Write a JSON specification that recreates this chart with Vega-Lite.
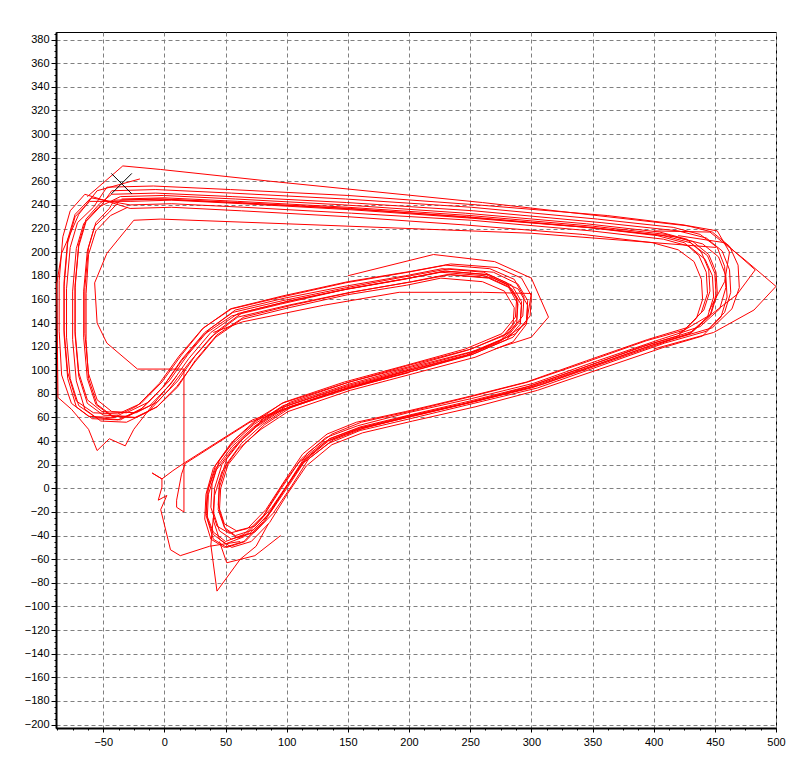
{
  "$schema": "https://vega.github.io/schema/vega-lite/v6.json",
  "width": 720,
  "height": 696,
  "autosize": {"type": "none"},
  "padding": {"left": 56, "top": 32, "right": 24, "bottom": 52},
  "background": "white",
  "config": {"view": {"stroke": "#000000", "strokeWidth": 1}},
  "datasets": {
    "track": [
      {"s":"m","x":-35,"y":245},{"s":"m","x":0,"y":246},{"s":"m","x":60,"y":243},{"s":"m","x":150,"y":238},{"s":"m","x":250,"y":231},{"s":"m","x":350,"y":222},{"s":"m","x":410,"y":215},{"s":"m","x":432,"y":209},{"s":"m","x":445,"y":198},{"s":"m","x":451,"y":183},{"s":"m","x":452,"y":165},{"s":"m","x":447,"y":148},{"s":"m","x":432,"y":133},{"s":"m","x":400,"y":123},{"s":"m","x":350,"y":105},{"s":"m","x":300,"y":87},{"s":"m","x":250,"y":74},{"s":"m","x":200,"y":62},{"s":"m","x":160,"y":52},{"s":"m","x":135,"y":42},{"s":"m","x":115,"y":25},{"s":"m","x":100,"y":2},{"s":"m","x":85,"y":-22},{"s":"m","x":70,"y":-38},{"s":"m","x":55,"y":-43},{"s":"m","x":45,"y":-36},{"s":"m","x":40,"y":-20},{"s":"m","x":41,"y":0},{"s":"m","x":47,"y":20},{"s":"m","x":60,"y":38},{"s":"m","x":78,"y":55},{"s":"m","x":100,"y":70},{"s":"m","x":150,"y":87},{"s":"m","x":200,"y":101},{"s":"m","x":250,"y":115},{"s":"m","x":280,"y":128},{"s":"m","x":291,"y":142},{"s":"m","x":292,"y":158},{"s":"m","x":284,"y":172},{"s":"m","x":265,"y":181},{"s":"m","x":230,"y":184},{"s":"m","x":200,"y":178},{"s":"m","x":150,"y":169},{"s":"m","x":100,"y":158},{"s":"m","x":60,"y":148},{"s":"m","x":38,"y":132},{"s":"m","x":20,"y":110},{"s":"m","x":5,"y":88},{"s":"m","x":-12,"y":70},{"s":"m","x":-30,"y":61},{"s":"m","x":-50,"y":62},{"s":"m","x":-63,"y":72},{"s":"m","x":-70,"y":95},{"s":"m","x":-73,"y":130},{"s":"m","x":-73,"y":170},{"s":"m","x":-70,"y":205},{"s":"m","x":-64,"y":226},{"s":"m","x":-52,"y":239},
      {"s":"m","x":-43,"y":252},{"s":"m","x":-7,"y":253},{"s":"m","x":55,"y":250},{"s":"m","x":148,"y":245},{"s":"m","x":251,"y":238},{"s":"m","x":354,"y":228},{"s":"m","x":416,"y":221},{"s":"m","x":438,"y":215},{"s":"m","x":452,"y":204},{"s":"m","x":458,"y":188},{"s":"m","x":459,"y":170},{"s":"m","x":454,"y":152},{"s":"m","x":438,"y":137},{"s":"m","x":405,"y":126},{"s":"m","x":354,"y":108},{"s":"m","x":302,"y":89},{"s":"m","x":251,"y":76},{"s":"m","x":199,"y":64},{"s":"m","x":158,"y":53},{"s":"m","x":132,"y":43},{"s":"m","x":112,"y":25},{"s":"m","x":96,"y":2},{"s":"m","x":81,"y":-23},{"s":"m","x":65,"y":-39},{"s":"m","x":50,"y":-45},{"s":"m","x":40,"y":-37},{"s":"m","x":34,"y":-21},{"s":"m","x":36,"y":0},{"s":"m","x":42,"y":20},{"s":"m","x":55,"y":39},{"s":"m","x":74,"y":56},{"s":"m","x":96,"y":72},{"s":"m","x":148,"y":89},{"s":"m","x":199,"y":104},{"s":"m","x":251,"y":118},{"s":"m","x":282,"y":132},{"s":"m","x":293,"y":146},{"s":"m","x":294,"y":162},{"s":"m","x":286,"y":177},{"s":"m","x":266,"y":186},{"s":"m","x":230,"y":189},{"s":"m","x":199,"y":183},{"s":"m","x":148,"y":174},{"s":"m","x":96,"y":162},{"s":"m","x":55,"y":152},{"s":"m","x":32,"y":136},{"s":"m","x":14,"y":113},{"s":"m","x":-2,"y":90},{"s":"m","x":-19,"y":72},{"s":"m","x":-38,"y":63},{"s":"m","x":-58,"y":64},{"s":"m","x":-72,"y":74},{"s":"m","x":-79,"y":98},{"s":"m","x":-82,"y":134},{"s":"m","x":-82,"y":175},{"s":"m","x":-79,"y":211},{"s":"m","x":-73,"y":232},{"s":"m","x":-60,"y":246},
      {"s":"m","x":-28,"y":240},{"s":"m","x":6,"y":241},{"s":"m","x":65,"y":238},{"s":"m","x":153,"y":233},{"s":"m","x":251,"y":227},{"s":"m","x":349,"y":218},{"s":"m","x":408,"y":211},{"s":"m","x":429,"y":205},{"s":"m","x":442,"y":194},{"s":"m","x":448,"y":180},{"s":"m","x":449,"y":162},{"s":"m","x":444,"y":145},{"s":"m","x":429,"y":131},{"s":"m","x":398,"y":121},{"s":"m","x":349,"y":103},{"s":"m","x":300,"y":85},{"s":"m","x":251,"y":73},{"s":"m","x":202,"y":61},{"s":"m","x":163,"y":51},{"s":"m","x":138,"y":41},{"s":"m","x":118,"y":25},{"s":"m","x":104,"y":2},{"s":"m","x":89,"y":-21},{"s":"m","x":74,"y":-37},{"s":"m","x":60,"y":-42},{"s":"m","x":50,"y":-35},{"s":"m","x":45,"y":-19},{"s":"m","x":46,"y":0},{"s":"m","x":52,"y":20},{"s":"m","x":65,"y":37},{"s":"m","x":82,"y":54},{"s":"m","x":104,"y":69},{"s":"m","x":153,"y":85},{"s":"m","x":202,"y":99},{"s":"m","x":251,"y":113},{"s":"m","x":280,"y":126},{"s":"m","x":291,"y":139},{"s":"m","x":292,"y":155},{"s":"m","x":284,"y":169},{"s":"m","x":265,"y":178},{"s":"m","x":231,"y":181},{"s":"m","x":202,"y":175},{"s":"m","x":153,"y":166},{"s":"m","x":104,"y":155},{"s":"m","x":65,"y":145},{"s":"m","x":43,"y":130},{"s":"m","x":25,"y":108},{"s":"m","x":11,"y":86},{"s":"m","x":-6,"y":69},{"s":"m","x":-24,"y":60},{"s":"m","x":-43,"y":61},{"s":"m","x":-56,"y":71},{"s":"m","x":-63,"y":93},{"s":"m","x":-66,"y":128},{"s":"m","x":-66,"y":167},{"s":"m","x":-63,"y":201},{"s":"m","x":-57,"y":222},{"s":"m","x":-45,"y":234},
      {"s":"m","x":-36,"y":244},{"s":"m","x":-1,"y":245},{"s":"m","x":60,"y":242},{"s":"m","x":152,"y":237},{"s":"m","x":254,"y":229},{"s":"m","x":356,"y":220},{"s":"m","x":417,"y":213},{"s":"m","x":440,"y":207},{"s":"m","x":453,"y":196},{"s":"m","x":459,"y":180},{"s":"m","x":460,"y":162},{"s":"m","x":455,"y":145},{"s":"m","x":440,"y":129},{"s":"m","x":407,"y":119},{"s":"m","x":356,"y":101},{"s":"m","x":305,"y":83},{"s":"m","x":254,"y":69},{"s":"m","x":203,"y":57},{"s":"m","x":162,"y":47},{"s":"m","x":137,"y":37},{"s":"m","x":116,"y":19},{"s":"m","x":101,"y":-4},{"s":"m","x":86,"y":-29},{"s":"m","x":71,"y":-45},{"s":"m","x":55,"y":-50},{"s":"m","x":45,"y":-43},{"s":"m","x":40,"y":-27},{"s":"m","x":41,"y":-6},{"s":"m","x":47,"y":14},{"s":"m","x":60,"y":33},{"s":"m","x":79,"y":50},{"s":"m","x":101,"y":65},{"s":"m","x":152,"y":83},{"s":"m","x":203,"y":97},{"s":"m","x":254,"y":111},{"s":"m","x":285,"y":124},{"s":"m","x":296,"y":139},{"s":"m","x":297,"y":155},{"s":"m","x":289,"y":169},{"s":"m","x":269,"y":178},{"s":"m","x":234,"y":181},{"s":"m","x":203,"y":175},{"s":"m","x":152,"y":166},{"s":"m","x":101,"y":155},{"s":"m","x":60,"y":145},{"s":"m","x":38,"y":128},{"s":"m","x":20,"y":106},{"s":"m","x":4,"y":84},{"s":"m","x":-13,"y":65},{"s":"m","x":-31,"y":56},{"s":"m","x":-52,"y":57},{"s":"m","x":-65,"y":67},{"s":"m","x":-72,"y":91},{"s":"m","x":-75,"y":126},{"s":"m","x":-75,"y":167},{"s":"m","x":-72,"y":203},{"s":"m","x":-66,"y":224},{"s":"m","x":-54,"y":238},
      {"s":"m","x":-36,"y":247},{"s":"m","x":-1,"y":248},{"s":"m","x":58,"y":245},{"s":"m","x":147,"y":240},{"s":"m","x":246,"y":233},{"s":"m","x":345,"y":224},{"s":"m","x":405,"y":217},{"s":"m","x":427,"y":211},{"s":"m","x":439,"y":200},{"s":"m","x":445,"y":185},{"s":"m","x":446,"y":167},{"s":"m","x":441,"y":151},{"s":"m","x":427,"y":136},{"s":"m","x":395,"y":126},{"s":"m","x":345,"y":108},{"s":"m","x":296,"y":90},{"s":"m","x":246,"y":77},{"s":"m","x":197,"y":65},{"s":"m","x":157,"y":56},{"s":"m","x":133,"y":46},{"s":"m","x":113,"y":29},{"s":"m","x":98,"y":6},{"s":"m","x":83,"y":-18},{"s":"m","x":68,"y":-34},{"s":"m","x":53,"y":-38},{"s":"m","x":43,"y":-32},{"s":"m","x":38,"y":-16},{"s":"m","x":39,"y":4},{"s":"m","x":45,"y":24},{"s":"m","x":58,"y":42},{"s":"m","x":76,"y":59},{"s":"m","x":98,"y":73},{"s":"m","x":147,"y":90},{"s":"m","x":197,"y":104},{"s":"m","x":246,"y":118},{"s":"m","x":276,"y":131},{"s":"m","x":287,"y":145},{"s":"m","x":288,"y":161},{"s":"m","x":280,"y":174},{"s":"m","x":261,"y":183},{"s":"m","x":227,"y":186},{"s":"m","x":197,"y":180},{"s":"m","x":147,"y":171},{"s":"m","x":98,"y":161},{"s":"m","x":58,"y":151},{"s":"m","x":37,"y":135},{"s":"m","x":19,"y":113},{"s":"m","x":4,"y":91},{"s":"m","x":-13,"y":73},{"s":"m","x":-31,"y":64},{"s":"m","x":-51,"y":65},{"s":"m","x":-63,"y":75},{"s":"m","x":-70,"y":98},{"s":"m","x":-73,"y":133},{"s":"m","x":-73,"y":172},{"s":"m","x":-70,"y":207},{"s":"m","x":-64,"y":228},{"s":"m","x":-53,"y":241},
      {"s":"m","x":-43,"y":249},{"s":"m","x":-7,"y":250},{"s":"m","x":56,"y":247},{"s":"m","x":149,"y":242},{"s":"m","x":253,"y":235},{"s":"m","x":357,"y":225},{"s":"m","x":420,"y":218},{"s":"m","x":443,"y":212},{"s":"m","x":456,"y":201},{"s":"m","x":462,"y":185},{"s":"m","x":463,"y":166},{"s":"m","x":458,"y":149},{"s":"m","x":443,"y":133},{"s":"m","x":409,"y":123},{"s":"m","x":357,"y":104},{"s":"m","x":305,"y":85},{"s":"m","x":253,"y":72},{"s":"m","x":201,"y":59},{"s":"m","x":160,"y":49},{"s":"m","x":134,"y":38},{"s":"m","x":113,"y":21},{"s":"m","x":97,"y":-3},{"s":"m","x":82,"y":-28},{"s":"m","x":66,"y":-45},{"s":"m","x":51,"y":-50},{"s":"m","x":40,"y":-43},{"s":"m","x":35,"y":-26},{"s":"m","x":36,"y":-5},{"s":"m","x":42,"y":15},{"s":"m","x":56,"y":34},{"s":"m","x":75,"y":52},{"s":"m","x":97,"y":67},{"s":"m","x":149,"y":85},{"s":"m","x":201,"y":100},{"s":"m","x":253,"y":114},{"s":"m","x":285,"y":128},{"s":"m","x":296,"y":142},{"s":"m","x":297,"y":159},{"s":"m","x":289,"y":173},{"s":"m","x":269,"y":183},{"s":"m","x":233,"y":186},{"s":"m","x":201,"y":180},{"s":"m","x":149,"y":170},{"s":"m","x":97,"y":159},{"s":"m","x":56,"y":149},{"s":"m","x":33,"y":132},{"s":"m","x":14,"y":109},{"s":"m","x":-1,"y":86},{"s":"m","x":-19,"y":67},{"s":"m","x":-38,"y":58},{"s":"m","x":-59,"y":59},{"s":"m","x":-72,"y":69},{"s":"m","x":-79,"y":93},{"s":"m","x":-82,"y":130},{"s":"m","x":-82,"y":171},{"s":"m","x":-79,"y":208},{"s":"m","x":-73,"y":230},{"s":"m","x":-61,"y":243},
      {"s":"m","x":-28,"y":243},{"s":"m","x":6,"y":244},{"s":"m","x":64,"y":241},{"s":"m","x":151,"y":236},{"s":"m","x":248,"y":229},{"s":"m","x":345,"y":221},{"s":"m","x":403,"y":214},{"s":"m","x":425,"y":208},{"s":"m","x":437,"y":197},{"s":"m","x":443,"y":183},{"s":"m","x":444,"y":165},{"s":"m","x":439,"y":149},{"s":"m","x":425,"y":134},{"s":"m","x":394,"y":125},{"s":"m","x":345,"y":107},{"s":"m","x":297,"y":90},{"s":"m","x":248,"y":77},{"s":"m","x":200,"y":65},{"s":"m","x":161,"y":56},{"s":"m","x":137,"y":46},{"s":"m","x":117,"y":30},{"s":"m","x":103,"y":7},{"s":"m","x":88,"y":-16},{"s":"m","x":74,"y":-32},{"s":"m","x":59,"y":-36},{"s":"m","x":49,"y":-30},{"s":"m","x":44,"y":-14},{"s":"m","x":45,"y":5},{"s":"m","x":51,"y":25},{"s":"m","x":64,"y":42},{"s":"m","x":81,"y":59},{"s":"m","x":103,"y":73},{"s":"m","x":151,"y":90},{"s":"m","x":200,"y":103},{"s":"m","x":248,"y":117},{"s":"m","x":277,"y":129},{"s":"m","x":288,"y":143},{"s":"m","x":289,"y":159},{"s":"m","x":281,"y":172},{"s":"m","x":263,"y":181},{"s":"m","x":229,"y":184},{"s":"m","x":200,"y":178},{"s":"m","x":151,"y":169},{"s":"m","x":103,"y":159},{"s":"m","x":64,"y":149},{"s":"m","x":43,"y":133},{"s":"m","x":25,"y":112},{"s":"m","x":11,"y":91},{"s":"m","x":-6,"y":73},{"s":"m","x":-23,"y":64},{"s":"m","x":-43,"y":65},{"s":"m","x":-55,"y":75},{"s":"m","x":-62,"y":97},{"s":"m","x":-65,"y":131},{"s":"m","x":-65,"y":170},{"s":"m","x":-62,"y":204},{"s":"m","x":-56,"y":225},{"s":"m","x":-45,"y":237},
      {"s":"m","x":-41,"y":244},{"s":"m","x":-6,"y":245},{"s":"m","x":55,"y":242},{"s":"m","x":146,"y":237},{"s":"m","x":247,"y":230},{"s":"m","x":348,"y":221},{"s":"m","x":408,"y":214},{"s":"m","x":430,"y":208},{"s":"m","x":444,"y":197},{"s":"m","x":450,"y":182},{"s":"m","x":451,"y":164},{"s":"m","x":446,"y":146},{"s":"m","x":430,"y":131},{"s":"m","x":398,"y":121},{"s":"m","x":348,"y":103},{"s":"m","x":297,"y":85},{"s":"m","x":247,"y":72},{"s":"m","x":196,"y":60},{"s":"m","x":156,"y":49},{"s":"m","x":130,"y":39},{"s":"m","x":110,"y":22},{"s":"m","x":95,"y":-1},{"s":"m","x":80,"y":-25},{"s":"m","x":65,"y":-41},{"s":"m","x":50,"y":-47},{"s":"m","x":40,"y":-39},{"s":"m","x":34,"y":-23},{"s":"m","x":35,"y":-3},{"s":"m","x":42,"y":17},{"s":"m","x":55,"y":35},{"s":"m","x":73,"y":52},{"s":"m","x":95,"y":68},{"s":"m","x":146,"y":85},{"s":"m","x":196,"y":99},{"s":"m","x":247,"y":113},{"s":"m","x":277,"y":126},{"s":"m","x":288,"y":140},{"s":"m","x":289,"y":156},{"s":"m","x":281,"y":171},{"s":"m","x":262,"y":180},{"s":"m","x":226,"y":183},{"s":"m","x":196,"y":177},{"s":"m","x":146,"y":168},{"s":"m","x":95,"y":156},{"s":"m","x":55,"y":146},{"s":"m","x":32,"y":130},{"s":"m","x":14,"y":108},{"s":"m","x":-1,"y":86},{"s":"m","x":-18,"y":68},{"s":"m","x":-36,"y":58},{"s":"m","x":-56,"y":60},{"s":"m","x":-70,"y":70},{"s":"m","x":-77,"y":93},{"s":"m","x":-80,"y":128},{"s":"m","x":-80,"y":169},{"s":"m","x":-77,"y":204},{"s":"m","x":-71,"y":225},{"s":"m","x":-58,"y":238},
      {"s":"m","x":-47,"y":255},{"s":"m","x":-9,"y":256},{"s":"m","x":54,"y":253},{"s":"m","x":150,"y":248},{"s":"m","x":256,"y":240},{"s":"m","x":362,"y":231},{"s":"m","x":425,"y":223},{"s":"m","x":448,"y":217},{"s":"m","x":462,"y":205},{"s":"m","x":469,"y":189},{"s":"m","x":470,"y":170},{"s":"m","x":464,"y":152},{"s":"m","x":448,"y":136},{"s":"m","x":415,"y":126},{"s":"m","x":362,"y":107},{"s":"m","x":309,"y":88},{"s":"m","x":256,"y":74},{"s":"m","x":203,"y":61},{"s":"m","x":160,"y":51},{"s":"m","x":134,"y":40},{"s":"m","x":113,"y":22},{"s":"m","x":97,"y":-3},{"s":"m","x":81,"y":-28},{"s":"m","x":65,"y":-45},{"s":"m","x":49,"y":-50},{"s":"m","x":38,"y":-43},{"s":"m","x":33,"y":-26},{"s":"m","x":34,"y":-5},{"s":"m","x":40,"y":17},{"s":"m","x":54,"y":36},{"s":"m","x":73,"y":54},{"s":"m","x":97,"y":70},{"s":"m","x":150,"y":88},{"s":"m","x":203,"y":103},{"s":"m","x":256,"y":117},{"s":"m","x":287,"y":131},{"s":"m","x":299,"y":146},{"s":"m","x":300,"y":163},{"s":"m","x":292,"y":178},{"s":"m","x":272,"y":187},{"s":"m","x":234,"y":190},{"s":"m","x":203,"y":184},{"s":"m","x":150,"y":175},{"s":"m","x":97,"y":163},{"s":"m","x":54,"y":152},{"s":"m","x":31,"y":135},{"s":"m","x":12,"y":112},{"s":"m","x":-4,"y":89},{"s":"m","x":-22,"y":70},{"s":"m","x":-41,"y":60},{"s":"m","x":-62,"y":61},{"s":"m","x":-76,"y":72},{"s":"m","x":-84,"y":96},{"s":"m","x":-86,"y":133},{"s":"m","x":-86,"y":176},{"s":"m","x":-83,"y":213},{"s":"m","x":-77,"y":235},{"s":"m","x":-65,"y":249},
      {"s":"m","x":-28,"y":237},{"s":"m","x":6,"y":238},{"s":"m","x":63,"y":235},{"s":"m","x":150,"y":230},{"s":"m","x":246,"y":223},{"s":"m","x":342,"y":215},{"s":"m","x":399,"y":208},{"s":"m","x":420,"y":202},{"s":"m","x":433,"y":192},{"s":"m","x":439,"y":177},{"s":"m","x":440,"y":160},{"s":"m","x":435,"y":144},{"s":"m","x":420,"y":129},{"s":"m","x":390,"y":120},{"s":"m","x":342,"y":102},{"s":"m","x":294,"y":85},{"s":"m","x":246,"y":72},{"s":"m","x":198,"y":61},{"s":"m","x":159,"y":51},{"s":"m","x":135,"y":42},{"s":"m","x":116,"y":25},{"s":"m","x":102,"y":3},{"s":"m","x":87,"y":-20},{"s":"m","x":73,"y":-35},{"s":"m","x":58,"y":-40},{"s":"m","x":49,"y":-33},{"s":"m","x":44,"y":-18},{"s":"m","x":45,"y":1},{"s":"m","x":51,"y":21},{"s":"m","x":63,"y":38},{"s":"m","x":80,"y":54},{"s":"m","x":102,"y":69},{"s":"m","x":150,"y":85},{"s":"m","x":198,"y":98},{"s":"m","x":246,"y":112},{"s":"m","x":274,"y":124},{"s":"m","x":285,"y":138},{"s":"m","x":286,"y":153},{"s":"m","x":278,"y":167},{"s":"m","x":260,"y":175},{"s":"m","x":226,"y":178},{"s":"m","x":198,"y":172},{"s":"m","x":150,"y":164},{"s":"m","x":102,"y":153},{"s":"m","x":63,"y":143},{"s":"m","x":42,"y":128},{"s":"m","x":25,"y":107},{"s":"m","x":10,"y":86},{"s":"m","x":-6,"y":69},{"s":"m","x":-23,"y":60},{"s":"m","x":-42,"y":61},{"s":"m","x":-55,"y":71},{"s":"m","x":-62,"y":93},{"s":"m","x":-64,"y":126},{"s":"m","x":-64,"y":165},{"s":"m","x":-62,"y":198},{"s":"m","x":-56,"y":218},{"s":"m","x":-44,"y":231},{"s":"m","x":-30,"y":238},
      {"s":"o1","x":451,"y":204},{"s":"o1","x":300,"y":216},{"s":"o1","x":200,"y":220},{"s":"o1","x":100,"y":224},{"s":"o1","x":-3,"y":228},{"s":"o1","x":-25,"y":227},{"s":"o1","x":-47,"y":199},{"s":"o1","x":-57,"y":174},{"s":"o1","x":-55,"y":140},{"s":"o1","x":-47,"y":123},{"s":"o1","x":-22,"y":101},{"s":"o1","x":16,"y":101},{"s":"o1","x":16,"y":60},{"s":"o1","x":16,"y":20},{"s":"o1","x":16,"y":-20},{"s":"o1","x":10,"y":-16},{"s":"o1","x":10,"y":-10},{"s":"o1","x":14,"y":12},{"s":"o1","x":17,"y":21},{"s":"o1","x":70,"y":56},{"s":"o1","x":135,"y":80},{"s":"o1","x":200,"y":100},
      {"s":"o2","x":62,"y":-45},{"s":"o2","x":37,"y":-49},{"s":"o2","x":13,"y":-57},{"s":"o2","x":5,"y":-52},{"s":"o2","x":-3,"y":-18},{"s":"o2","x":2,"y":-6},{"s":"o2","x":-5,"y":-10},{"s":"o2","x":-2,"y":1},{"s":"o2","x":-2,"y":8},{"s":"o2","x":-10,"y":13},{"s":"o2","x":-2,"y":8},{"s":"o2","x":7,"y":15},{"s":"o2","x":17,"y":22},{"s":"o2","x":72,"y":58},{"s":"o2","x":140,"y":82},{"s":"o2","x":200,"y":98},
      {"s":"o3","x":40,"y":-25},{"s":"o3","x":38,"y":-48},{"s":"o3","x":43,"y":-87},{"s":"o3","x":62,"y":-60},{"s":"o3","x":75,"y":-49},{"s":"o3","x":85,"y":-30},
      {"s":"o4","x":45,"y":-45},{"s":"o4","x":51,"y":-63},{"s":"o4","x":74,"y":-57},{"s":"o4","x":95,"y":-40},
      {"s":"o5","x":400,"y":218},{"s":"o5","x":446,"y":217},{"s":"o5","x":474,"y":194},{"s":"o5","x":500,"y":171},{"s":"o5","x":482,"y":151},{"s":"o5","x":449,"y":132},{"s":"o5","x":400,"y":118},
      {"s":"o6","x":420,"y":214},{"s":"o6","x":458,"y":208},{"s":"o6","x":483,"y":185},{"s":"o6","x":468,"y":164},{"s":"o6","x":448,"y":148},{"s":"o6","x":420,"y":131},
      {"s":"o7","x":-20,"y":262},{"s":"o7","x":-55,"y":252},{"s":"o7","x":-70,"y":232},{"s":"o7","x":-84,"y":199},{"s":"o7","x":-88,"y":173},{"s":"o7","x":-87,"y":77},{"s":"o7","x":-76,"y":67},{"s":"o7","x":-62,"y":50},{"s":"o7","x":-55,"y":32},{"s":"o7","x":-45,"y":42},{"s":"o7","x":-32,"y":36},{"s":"o7","x":-25,"y":50},{"s":"o7","x":-10,"y":70},{"s":"o7","x":10,"y":95},
      {"s":"o8","x":-63,"y":247},{"s":"o8","x":-34,"y":273},{"s":"o8","x":-3,"y":270},{"s":"o8","x":87,"y":260},{"s":"o8","x":260,"y":242},{"s":"o8","x":430,"y":222},{"s":"o8","x":452,"y":218},{"s":"o8","x":462,"y":200},{"s":"o8","x":458,"y":175},{"s":"o8","x":445,"y":150},
      {"s":"o9","x":150,"y":180},{"s":"o9","x":220,"y":198},{"s":"o9","x":270,"y":192},{"s":"o9","x":300,"y":178},{"s":"o9","x":314,"y":145},{"s":"o9","x":300,"y":128},{"s":"o9","x":270,"y":118},
      {"s":"o10","x":40,"y":132},{"s":"o10","x":64,"y":141},{"s":"o10","x":130,"y":155},{"s":"o10","x":192,"y":166},{"s":"o10","x":260,"y":166},{"s":"o10","x":300,"y":165},{"s":"o10","x":296,"y":140},{"s":"o10","x":280,"y":128}
    ],
    "marker": [{"x": -35, "y": 258}]
  },
  "layer": [
    {
      "data": {"name": "track"},
      "mark": {"type": "line", "color": "#ff0000", "strokeWidth": 1, "clip": true},
      "encoding": {
        "x": {"field": "x", "type": "quantitative",
          "scale": {"domain": [-88.6, 500], "nice": false, "zero": false},
          "axis": {"orient": "bottom", "title": null, "values": [-50,0,50,100,150,200,250,300,350,400,450,500],
            "grid": true, "gridColor": "#808080", "gridDash": [4,3], "gridWidth": 1,
            "domainColor": "#000000", "domainWidth": 2, "tickColor": "#000000", "tickSize": 4, "tickWidth": 1,
            "labelFont": "Liberation Sans", "labelFontSize": 11, "labelColor": "#000000", "labelPadding": 4,
            "labelFlush": false, "labelOverlap": false}},
        "y": {"field": "y", "type": "quantitative",
          "scale": {"domain": [-202.9, 386.4], "nice": false, "zero": false},
          "axis": {"orient": "left", "title": null, "values": [-200,-180,-160,-140,-120,-100,-80,-60,-40,-20,0,20,40,60,80,100,120,140,160,180,200,220,240,260,280,300,320,340,360,380],
            "grid": true, "gridColor": "#808080", "gridDash": [4,3], "gridWidth": 1,
            "domainColor": "#000000", "domainWidth": 2, "tickColor": "#000000", "tickSize": 5, "tickWidth": 1,
            "labelFont": "Liberation Sans", "labelFontSize": 11, "labelColor": "#000000", "labelPadding": 2,
            "labelFlush": false, "labelOverlap": false}},
        "detail": {"field": "s", "type": "nominal"},
        "order": {"value": null}
      }
    },
    {
      "data": {"name": "marker"},
      "mark": {"type": "point", "shape": "M-1,-1L1,1M1,-1L-1,1", "size": 420, "stroke": "#000000", "strokeWidth": 1, "filled": false, "opacity": 1},
      "encoding": {
        "x": {"field": "x", "type": "quantitative",
          "axis": {"orient": "bottom", "title": null, "labels": false, "domain": false, "grid": false, "tickSize": 2, "tickColor": "#000000",
            "values": [-87.5,-75,-62.5,-50,-37.5,-25,-12.5,0,12.5,25,37.5,50,62.5,75,87.5,100,112.5,125,137.5,150,162.5,175,187.5,200,212.5,225,237.5,250,262.5,275,287.5,300,312.5,325,337.5,350,362.5,375,387.5,400,412.5,425,437.5,450,462.5,475,487.5,500]}},
        "y": {"field": "y", "type": "quantitative",
          "axis": {"orient": "left", "title": null, "labels": false, "domain": false, "grid": false, "tickSize": 2, "tickColor": "#000000",
            "values": [-200,-195,-190,-185,-180,-175,-170,-165,-160,-155,-150,-145,-140,-135,-130,-125,-120,-115,-110,-105,-100,-95,-90,-85,-80,-75,-70,-65,-60,-55,-50,-45,-40,-35,-30,-25,-20,-15,-10,-5,0,5,10,15,20,25,30,35,40,45,50,55,60,65,70,75,80,85,90,95,100,105,110,115,120,125,130,135,140,145,150,155,160,165,170,175,180,185,190,195,200,205,210,215,220,225,230,235,240,245,250,255,260,265,270,275,280,285,290,295,300,305,310,315,320,325,330,335,340,345,350,355,360,365,370,375,380,385]}}
      }
    }
  ],
  "resolve": {"axis": {"x": "independent", "y": "independent"}}
}
